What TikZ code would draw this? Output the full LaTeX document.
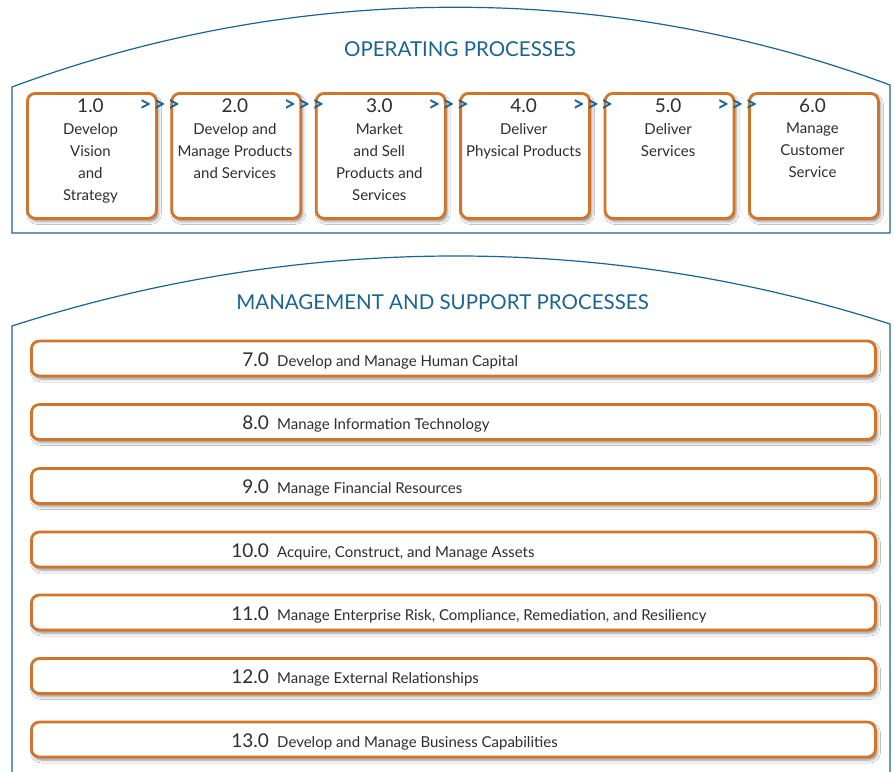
\documentclass[tikz,border=0pt]{standalone}
\usepackage{fontspec}
\setmainfont{Lato}
\usetikzlibrary{shadows.blur}
\definecolor{pcfblue}{HTML}{1B6491}
\definecolor{pcforange}{HTML}{D2742A}
\definecolor{pcftext}{HTML}{2E2E2E}
\tikzset{
  panel/.style={draw=pcfblue, line width=1.2pt},
  procbox/.style={draw=pcforange, line width=2.8pt, rounded corners=8pt, fill=white,
    minimum width=129pt, minimum height=125pt, inner sep=0pt,
    blur shadow={shadow xshift=2pt, shadow yshift=-3pt, shadow blur radius=3pt, shadow opacity=45}},
  suppbar/.style={procbox, minimum width=844pt, minimum height=35pt},
  ttl/.style={text=pcfblue, font=\fontsize{20.5}{22}\selectfont},
  boxnum/.style={text=pcftext, inner sep=0pt, font=\fontsize{19}{22}\selectfont},
  boxtxt/.style={text=pcftext, inner sep=0pt, align=center, font=\fontsize{15}{22}\selectfont},
  barnum/.style={boxnum},
  bartxt/.style={text=pcftext, inner sep=0pt, font=\fontsize{15}{22}\selectfont},
  chev/.style={text=pcfblue, inner sep=0pt, anchor=base, font=\fontsize{21}{22}\selectfont\bfseries}
}
\newcommand{\chevs}{{>}\kern2pt{>}\kern2pt{>}}

\begin{document}
\begin{tikzpicture}[x=1pt,y=-1pt]
\useasboundingbox[fill=white] (0,0) rectangle (894,771);

\draw[panel] (12,233) -- (12,87) .. controls (295,-18) and (607,-20) .. (890,85) -- (890,233) -- cycle;
\node[ttl, anchor=base] (optitle) at (460,56) {OPERATING PROCESSES};

\node[procbox, anchor=north west] (p1) at (26,92) {};
\node[procbox, anchor=north west] (p2) at (170.4,92) {};
\node[procbox, anchor=north west] (p3) at (314.8,92) {};
\node[procbox, anchor=north west] (p4) at (459.2,92) {};
\node[procbox, anchor=north west] (p5) at (603.6,92) {};
\node[procbox, anchor=north west] (p6) at (748,92) {};

\node[boxnum, anchor=base] (p1num) at (90.5,112) {1.0};
\node[boxnum, anchor=base] (p2num) at (234.9,112) {2.0};
\node[boxnum, anchor=base] (p3num) at (379.3,112) {3.0};
\node[boxnum, anchor=base] (p4num) at (523.7,112) {4.0};
\node[boxnum, anchor=base] (p5num) at (668.1,112) {5.0};
\node[boxnum, anchor=base] (p6num) at (812.5,112) {6.0};

\node[boxtxt, anchor=north] (p1txt) at (90.5,123) {Develop\\Vision\\and\\Strategy};
\node[boxtxt, anchor=north] (p2txt) at (234.9,123) {Develop and\\Manage Products\\and Services};
\node[boxtxt, anchor=north] (p3txt) at (379.3,123) {Market\\and Sell\\Products and\\Services};
\node[boxtxt, anchor=north] (p4txt) at (523.7,123) {Deliver\\Physical Products};
\node[boxtxt, anchor=north] (p5txt) at (668.1,123) {Deliver\\Services};
\node[boxtxt, anchor=north] (p6txt) at (812.5,123) {Manage\\Customer\\Service};

\node[chev] (c12) at (159.7,111) {\chevs};
\node[chev] (c23) at (304.1,111) {\chevs};
\node[chev] (c34) at (448.5,111) {\chevs};
\node[chev] (c45) at (592.9,111) {\chevs};
\node[chev] (c56) at (737.3,111) {\chevs};

\draw[panel] (12,780) -- (12,326) .. controls (298,234) and (604,232) .. (890,324) -- (890,780);
\node[ttl, anchor=base] (mstitle) at (442.5,309) {MANAGEMENT AND SUPPORT PROCESSES};

\node[suppbar, anchor=west] (s7) at (30,358.5) {};
\node[suppbar, anchor=west] (s8) at (30,422) {};
\node[suppbar, anchor=west] (s9) at (30,486) {};
\node[suppbar, anchor=west] (s10) at (30,549.5) {};
\node[suppbar, anchor=west] (s11) at (30,612.5) {};
\node[suppbar, anchor=west] (s12) at (30,676) {};
\node[suppbar, anchor=west] (s13) at (30,739.5) {};

\node[barnum, anchor=base east] (s7num) at (269,366) {7.0};
\node[barnum, anchor=base east] (s8num) at (269,429.5) {8.0};
\node[barnum, anchor=base east] (s9num) at (269,493.5) {9.0};
\node[barnum, anchor=base east] (s10num) at (269,557) {10.0};
\node[barnum, anchor=base east] (s11num) at (269,620) {11.0};
\node[barnum, anchor=base east] (s12num) at (269,683.5) {12.0};
\node[barnum, anchor=base east] (s13num) at (269,747) {13.0};

\node[bartxt, anchor=base west] (s7txt) at (277,366) {Develop and Manage Human Capital};
\node[bartxt, anchor=base west] (s8txt) at (277,429.5) {Manage Information Technology};
\node[bartxt, anchor=base west] (s9txt) at (277,493.5) {Manage Financial Resources};
\node[bartxt, anchor=base west] (s10txt) at (277,557) {Acquire, Construct, and Manage Assets};
\node[bartxt, anchor=base west] (s11txt) at (277,620) {Manage Enterprise Risk, Compliance, Remediation, and Resiliency};
\node[bartxt, anchor=base west] (s12txt) at (277,683.5) {Manage External Relationships};
\node[bartxt, anchor=base west] (s13txt) at (277,747) {Develop and Manage Business Capabilities};
\end{tikzpicture}
\end{document}
